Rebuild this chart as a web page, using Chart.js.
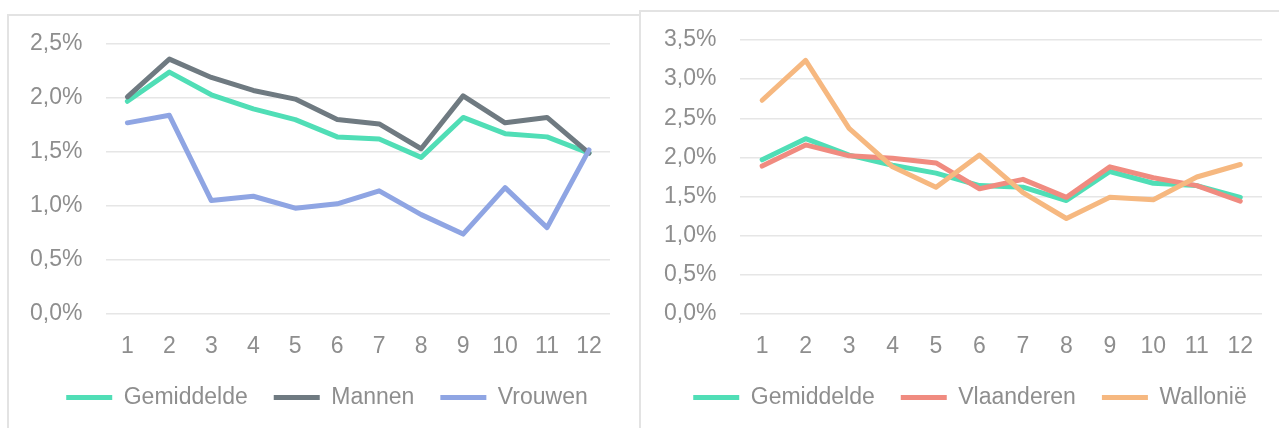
<!DOCTYPE html>
<html lang="nl">
<head>
<meta charset="utf-8">
<script src="https://cdn.jsdelivr.net/npm/chart.js@4/dist/chart.umd.min.js"></script>
<style>
  html, body { margin: 0; padding: 0; background: #fff; }
  body { width: 1279px; height: 428px; position: relative; overflow: hidden; }
  .box { position: absolute; border: 2px solid #e3e3e3; box-sizing: border-box; background: #fff; }
  #boxLeft { left: 7px; top: 14px; width: 640px; height: 440px; }
  #boxRight { left: 639px; top: 10px; width: 660px; height: 440px; }
  canvas { position: absolute; top: 0; }
  #chartLeft { left: 0; }
  #chartRight { left: 640px; }
</style>
</head>
<body>
<div class="box" id="boxLeft"></div>
<div class="box" id="boxRight"></div>
<canvas id="chartLeft" width="640" height="428"></canvas>
<canvas id="chartRight" width="639" height="428"></canvas>
<script>
// Data (in procent)
const months = ["1", "2", "3", "4", "5", "6", "7", "8", "9", "10", "11", "12"];
const gemiddelde = [1.97, 2.24, 2.03, 1.90, 1.80, 1.64, 1.62, 1.45, 1.82, 1.67, 1.64, 1.49];
const mannen = [2.01, 2.36, 2.19, 2.07, 1.99, 1.80, 1.76, 1.53, 2.02, 1.77, 1.82, 1.49];
const vrouwen = [1.77, 1.84, 1.05, 1.09, 0.98, 1.02, 1.14, 0.92, 0.74, 1.17, 0.80, 1.52];
const vlaanderen = [1.89, 2.16, 2.02, 1.99, 1.93, 1.60, 1.72, 1.49, 1.88, 1.74, 1.64, 1.44];
const wallonie = [2.73, 3.24, 2.37, 1.88, 1.62, 2.03, 1.55, 1.22, 1.49, 1.46, 1.75, 1.91];
const yMaxLeft = 2.5;
const yMaxRight = 3.5;
const yStep = 0.5;

Chart.defaults.font.family = "'Liberation Sans', Arial, sans-serif";
Chart.defaults.font.size = 23;
Chart.defaults.color = "#8e8e8e";

// schuift de legende een stukje op zonder het grafiekvlak te verplaatsen
const legendShift = {
    id: "legendShift",
    afterLayout(chart, args, opts) {
        const l = chart.legend;
        if (!l || !opts.dx) return;
        l.left += opts.dx;
        l.right += opts.dx;
    }
};

function line(label, data, color, order) {
    return {
        label, data, order,
        borderColor: color,
        backgroundColor: color,
        borderWidth: 5,
        borderCapStyle: "round",
        borderJoinStyle: "round",
        pointRadius: 0,
        tension: 0
    };
}

function makeChart(id, datasets, yMax, pad, dx) {
    return new Chart(document.getElementById(id), {
        type: "line",
        data: { labels: months, datasets },
        plugins: [legendShift],
        options: {
            responsive: false,
            animation: false,
            layout: { padding: pad },
            scales: {
                x: {
                    offset: true,
                    grid: { display: false, drawTicks: false, tickLength: 0 },
                    border: { display: false },
                    ticks: { padding: 21, maxRotation: 0, autoSkip: false, font: { lineHeight: 1 } },
                    afterFit: s => { s.height = 46; }
                },
                y: {
                    min: 0, max: yMax,
                    grid: { color: "#e6e6e6", lineWidth: 1.5, drawTicks: false, tickLength: 0 },
                    border: { display: false },
                    ticks: {
                        stepSize: yStep,
                        padding: 24,
                        callback: v => v.toFixed(1).replace(".", ",") + "%"
                    }
                }
            },
            plugins: {
                tooltip: { enabled: false },
                legendShift: { dx },
                legend: {
                    position: "bottom",
                    labels: {
                        usePointStyle: true,
                        pointStyle: "line",
                        pointStyleWidth: 46,
                        padding: 26,
                        sort: (a, b) => a.datasetIndex - b.datasetIndex
                    }
                }
            }
        }
    });
}

makeChart("chartLeft", [
    line("Gemiddelde", gemiddelde, "#50deb6", 3),
    line("Mannen", mannen, "#6f7a81", 2),
    line("Vrouwen", vrouwen, "#8fa5e3", 1)
], yMaxLeft, { top: 44, left: 6, right: 30, bottom: 9 }, 19);

makeChart("chartRight", [
    line("Gemiddelde", gemiddelde, "#50deb6", 3),
    line("Vlaanderen", vlaanderen, "#f08b80", 2),
    line("Wallonië", wallonie, "#f6b880", 1)
], yMaxRight, { top: 40, left: 0, right: 17, bottom: 9 }, 19);
</script>
</body>
</html>
